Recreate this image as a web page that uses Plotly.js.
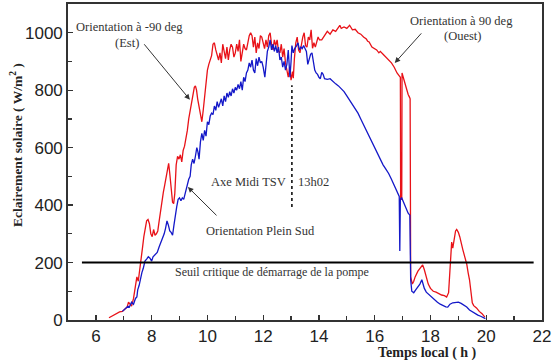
<!DOCTYPE html>
<html><head><meta charset="utf-8">
<script src="https://cdn.plot.ly/plotly-3.0.1.min.js"></script>
<style>html,body{margin:0;padding:0;background:#fff}#c{width:553px;height:360px}</style>
</head><body><div id="c"></div>
<script>
// Red series (Orientation -90 deg Est / 90 deg Ouest)
const redHours = [6.47,6.55,6.65,6.75,6.85,6.95,7.05,7.12,7.17,7.22,7.28,7.35,7.42,7.47,7.52,7.57,7.62,7.67,7.72,7.77,7.82,7.87,7.92,7.97,8.02,8.07,8.12,8.17,8.22,8.27,8.32,8.37,8.42,8.47,8.52,8.57,8.61,8.65,8.7,8.75,8.79,8.83,8.88,8.93,8.98,9.03,9.08,9.13,9.18,9.23,9.28,9.33,9.38,9.43,9.48,9.53,9.57,9.61,9.65,9.7,9.75,9.8,9.85,9.9,9.95,10.0,10.05,10.1,10.15,10.2,10.25,10.3,10.35,10.4,10.45,10.5,10.55,10.6,10.65,10.7,10.75,10.8,10.85,10.9,10.95,11.0,11.05,11.1,11.15,11.2,11.25,11.3,11.35,11.4,11.45,11.5,11.55,11.6,11.65,11.7,11.75,11.8,11.85,11.9,11.95,12.0,12.05,12.1,12.15,12.2,12.25,12.3,12.35,12.4,12.45,12.5,12.55,12.6,12.65,12.7,12.75,12.8,12.85,12.9,12.95,13.0,13.05,13.08,13.12,13.17,13.22,13.27,13.32,13.37,13.42,13.47,13.52,13.57,13.62,13.67,13.72,13.77,13.82,13.87,13.92,13.97,14.02,14.1,14.2,14.3,14.4,14.5,14.6,14.7,14.75,14.8,14.9,15.0,15.1,15.2,15.3,15.4,15.5,15.6,15.7,15.75,15.8,15.9,16.0,16.07,16.15,16.2,16.3,16.4,16.5,16.6,16.7,16.8,16.88,16.92,16.93,16.97,16.98,17.05,17.12,17.2,17.25,17.27,17.29,17.35,17.4,17.45,17.55,17.65,17.72,17.78,17.85,17.92,18.0,18.1,18.2,18.3,18.4,18.5,18.58,18.65,18.7,18.73,18.76,18.8,18.85,18.9,18.94,19.0,19.05,19.1,19.16,19.23,19.3,19.35,19.4,19.45,19.5,19.55,19.65,19.75,19.85,19.95];
const redValues = [8,12,18,22,28,30,38,45,62,55,48,75,120,150,135,180,220,250,290,320,345,350,335,300,290,315,295,300,310,345,380,420,445,470,500,520,545,510,460,410,405,440,540,570,560,575,550,590,605,630,660,700,730,760,780,810,815,800,770,740,720,690,730,780,830,870,890,905,920,960,965,940,920,905,930,895,960,940,910,950,905,940,960,950,915,930,960,935,975,900,930,960,945,940,965,990,1000,990,950,985,930,965,945,990,985,960,945,975,950,990,1000,960,940,975,955,975,935,930,960,915,945,895,870,845,880,835,865,842,910,965,985,940,930,965,985,1000,955,950,985,975,1010,946,965,950,970,985,975,975,990,1005,995,1010,1005,1020,1026,1015,1020,1015,1026,1010,1012,1000,995,985,978,970,968,950,945,940,930,935,925,915,905,895,880,860,850,845,420,420,860,835,810,785,775,770,150,125,135,150,170,185,192,175,150,125,110,100,97,92,87,85,80,95,180,250,271,250,285,310,315,305,290,265,245,220,195,165,140,100,60,50,42,30,22,10];

// Blue series (Orientation Plein Sud)
const blueHours = [6.95,7.0,7.05,7.1,7.15,7.2,7.28,7.35,7.42,7.47,7.5,7.55,7.6,7.65,7.7,7.76,7.82,7.88,7.94,8.0,8.05,8.1,8.15,8.2,8.27,8.33,8.4,8.45,8.5,8.55,8.6,8.65,8.7,8.75,8.8,8.85,8.9,8.95,9.0,9.05,9.1,9.15,9.2,9.27,9.33,9.38,9.42,9.47,9.52,9.57,9.62,9.66,9.7,9.75,9.8,9.85,9.9,9.95,10.0,10.05,10.1,10.15,10.2,10.25,10.3,10.35,10.4,10.45,10.5,10.55,10.6,10.65,10.7,10.75,10.8,10.85,10.9,10.95,11.0,11.05,11.1,11.15,11.2,11.25,11.3,11.35,11.4,11.45,11.5,11.55,11.6,11.65,11.7,11.75,11.8,11.85,11.9,11.95,12.0,12.06,12.1,12.15,12.2,12.25,12.3,12.35,12.4,12.45,12.5,12.55,12.6,12.65,12.7,12.75,12.8,12.85,12.9,12.96,13.0,13.03,13.08,13.13,13.2,13.25,13.3,13.35,13.4,13.45,13.5,13.55,13.6,13.65,13.7,13.75,13.8,13.85,13.9,13.95,14.0,14.05,14.1,14.15,14.2,14.3,14.4,14.5,14.6,14.7,14.8,14.9,15.0,15.1,15.2,15.3,15.4,15.5,15.6,15.7,15.8,15.9,16.0,16.1,16.2,16.3,16.4,16.5,16.6,16.7,16.8,16.88,16.9,16.92,16.97,17.03,17.08,17.15,17.2,17.26,17.29,17.33,17.4,17.47,17.55,17.62,17.69,17.78,17.85,17.95,18.05,18.15,18.25,18.35,18.45,18.55,18.62,18.7,18.8,18.9,19.0,19.1,19.2,19.3,19.4,19.5,19.6,19.7,19.8,19.9,19.97];
const blueValues = [30,35,40,42,48,45,62,55,75,80,105,120,150,165,180,205,212,220,215,205,220,225,228,235,255,268,285,300,320,345,330,310,305,295,330,370,395,420,425,415,425,420,440,465,490,500,540,560,545,570,600,585,560,620,650,625,660,640,690,680,710,720,715,745,730,760,740,755,770,745,780,760,790,775,795,780,805,790,810,800,820,805,830,800,845,830,860,870,895,880,905,870,860,910,885,915,895,900,880,845,900,935,950,975,940,960,935,955,930,950,905,915,880,900,870,890,940,845,900,955,930,945,955,965,940,950,945,955,945,935,890,910,925,930,895,870,860,855,845,840,862,855,840,838,840,830,822,815,805,795,780,765,750,735,720,700,680,655,640,620,600,580,560,540,525,510,490,470,450,430,240,420,425,410,395,380,372,365,140,100,95,105,115,125,140,110,97,88,77,68,62,55,50,46,45,55,60,62,62,58,52,45,35,28,22,17,13,8,5];

const xTicks = [6,8,10,12,14,16,18,20,22];
const yTicks = [0,200,400,600,800,1000];
const threshold = 200;
const noonHour = 13.03;

const serif = 'Liberation Serif, Times New Roman, serif';
const sans = 'Liberation Sans, Arial, sans-serif';
const txt = '#333';

const traces = [
  {x: redHours, y: redValues, type: 'scatter', mode: 'lines', line: {color: 'rgb(232,18,24)', width: 1.3}, hoverinfo: 'skip'},
  {x: blueHours, y: blueValues, type: 'scatter', mode: 'lines', line: {color: 'rgb(20,24,200)', width: 1.3}, hoverinfo: 'skip'}
];

const ann = (text, x, y, opts) => Object.assign({text, x, y, xref: 'x', yref: 'y', showarrow: false,
  xanchor: 'center', yanchor: 'middle', font: {family: serif, size: 12.5, color: txt}}, opts || {});
const arrow = (x, y, ax, ay) => ({text: '', x, y, ax, ay, xref: 'x', yref: 'y', axref: 'x', ayref: 'y',
  showarrow: true, arrowhead: 2, arrowsize: 1.1, arrowwidth: 1, arrowcolor: '#333'});

const layout = {
  width: 553, height: 360,
  margin: {l: 68, r: 11, t: 4, b: 40},
  paper_bgcolor: '#fff', plot_bgcolor: '#fff',
  showlegend: false,
  xaxis: {range: [5, 22], tickvals: xTicks, ticktext: xTicks.map(String), ticks: 'inside', ticklen: 5, tickwidth: 1.3,
    tickcolor: '#333', showline: true, linecolor: '#333', linewidth: 1.8, mirror: true, showgrid: false, zeroline: false,
    tickfont: {family: sans, size: 17, color: '#222'},
    minor: {dtick: 1, tick0: 5, ticks: 'inside', ticklen: 4, tickcolor: '#333', showgrid: false}},
  yaxis: {range: [0, 1100], tickvals: yTicks, ticktext: yTicks.map(String), ticks: 'inside', ticklen: 5, tickwidth: 1.3,
    tickcolor: '#333', showline: true, linecolor: '#333', linewidth: 1.8, mirror: true, showgrid: false, zeroline: false,
    tickfont: {family: sans, size: 17, color: '#222'},
    minor: {dtick: 100, tick0: 0, ticks: 'inside', ticklen: 4, tickcolor: '#333', showgrid: false}},
  shapes: [
    {type: 'line', xref: 'x', yref: 'y', x0: 5.5, x1: 21.7, y0: threshold, y1: threshold, line: {color: '#000', width: 2}},
    {type: 'line', xref: 'x', yref: 'y', x0: noonHour, x1: noonHour, y0: 393, y1: 817, line: {color: '#000', width: 1.5, dash: 'dot'}}
  ],
  annotations: [
    {text: '<b>Eclairement solaire ( W/m<sup>2</sup> )</b>', xref: 'paper', yref: 'paper', x: -0.1076, y: 0.554,
      xanchor: 'center', yanchor: 'middle',
      textangle: -90, showarrow: false, font: {family: serif, size: 13.5, color: '#222'}},
    {text: '<b>Temps local ( h )</b>', xref: 'paper', yref: 'paper', x: 0.759, y: -0.106,
      xanchor: 'center', yanchor: 'middle',
      showarrow: false, font: {family: serif, size: 14, color: '#222'}},
    ann('Orientation à -90 deg', 7.22, 1021),
    ann('(Est)', 7.11, 965),
    arrow(9.37, 767, 7.69, 965),
    ann('Orientation à 90 deg', 19.12, 1042),
    ann('(Ouest)', 19.16, 990),
    arrow(16.72, 895, 17.72, 1003),
    ann('Axe Midi TSV', 12.88, 481, {xanchor: 'right'}),
    ann('13h02', 13.17, 481, {xanchor: 'left'}),
    ann('Orientation Plein Sud', 11.92, 310),
    arrow(9.3, 463, 10.38, 359),
    ann('Seuil critique de démarrage de la pompe', 8.76, 167, {xanchor: 'left', font: {family: serif, size: 12, color: txt}})
  ]
};

Plotly.newPlot('c', traces, layout, {staticPlot: true, displayModeBar: false});
</script></body></html>
